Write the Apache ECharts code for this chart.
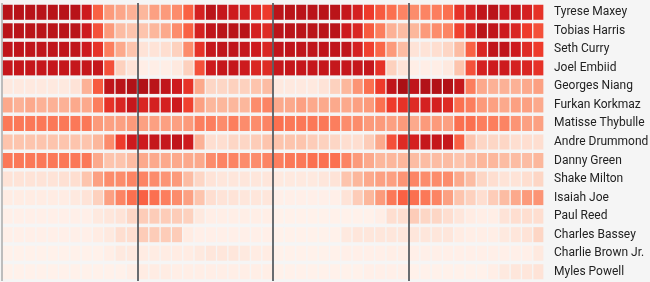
<!DOCTYPE html>
<html><head><meta charset="utf-8">
<script src="https://cdn.jsdelivr.net/npm/echarts@6/dist/echarts.min.js"></script>
<style>html,body{margin:0;padding:0;background:#f5f5f5}#c{width:650px;height:282px}</style>
</head><body><div id="c"></div>
<script>
const minutes = Array.from({length:48}, (_, i) => String(i + 1));
const players = ["Tyrese Maxey","Tobias Harris","Seth Curry","Joel Embiid","Georges Niang","Furkan Korkmaz","Matisse Thybulle","Andre Drummond","Danny Green","Shake Milton","Isaiah Joe","Paul Reed","Charles Bassey","Charlie Brown Jr.","Myles Powell"];
const tyreseMaxey   = [93,93,93,93,93,93,93,85,60,40,36,32, 30,38,40,45,60,82,92,88,85,82,78,72, 92,92,92,92,92,92,88,82,72,62,55,48, 45,48,50,55,75,82,90,92,85,88,82,75];
const tobiasHarris  = [92,92,92,92,92,92,92,85,65,40,28,25, 25,30,35,45,60,82,90,92,92,92,82,78, 92,92,92,92,92,92,85,80,62,50,32,28, 30,40,45,48,70,80,92,90,85,80,72,65];
const sethCurry     = [90,90,90,90,90,90,90,85,75,50,35,25, 12,12,15,20,45,75,88,90,90,88,85,80, 90,90,90,90,90,90,90,82,70,58,40,28, 12,12,15,18,28,60,80,90,90,85,78,72];
const joelEmbiid    = [88,88,88,88,88,88,88,88,88,65,20,12, 5,5,5,8,20,65,85,88,88,85,80,78, 88,88,88,88,88,88,88,88,88,75,20,12, 5,5,5,8,25,65,82,85,85,82,80,75];
const georgesNiang  = [8,8,8,8,8,8,12,32,62,90,92,96, 95,92,90,85,75,35,18,18,20,20,25,28, 8,8,8,8,12,20,30,42,55,72,90,98, 90,95,95,95,88,50,35,32,32,32,35,38];
const furkanKorkmaz = [35,32,35,32,32,32,35,35,50,75,80,88, 80,82,82,85,70,38,30,30,30,30,45,48, 35,35,38,35,35,35,35,38,40,55,72,75, 78,82,82,78,55,50,40,38,35,38,38,35];
const matisseThybulle = [52,52,52,52,52,52,52,52,40,38,38,40, 38,38,38,38,40,50,50,45,50,45,45,48, 55,52,52,52,52,50,45,45,40,40,38,40, 35,40,40,38,55,55,50,50,48,42,38,38];
const andreDrummond = [25,25,25,25,25,25,25,25,30,45,72,85, 85,88,88,90,85,32,15,15,18,18,22,25, 25,25,25,22,20,18,15,15,22,35,65,78, 82,88,88,88,60,25,18,18,18,15,15,15];
const dannyGreen    = [52,52,52,52,52,52,52,52,35,25,25,28, 35,35,35,35,35,35,45,48,48,45,45,48, 50,52,52,55,55,55,48,40,35,30,30,30, 28,28,28,28,25,28,30,30,28,28,28,30];
const shakeMilton   = [12,12,12,12,12,14,15,25,38,45,45,48, 48,45,42,40,28,18,12,10,10,10,10,10, 8,8,8,8,10,12,25,30,35,38,38,42, 48,45,45,45,35,28,18,15,12,12,15,18];
const isaiahJoe     = [6,6,6,6,6,6,8,12,20,38,48,55, 60,55,50,45,38,25,15,12,12,10,10,10, 4,4,4,4,4,4,12,22,30,40,52,60, 55,52,48,38,25,20,15,22,28,35,40,42];
const paulReed      = [4,4,4,4,4,4,4,4,8,10,12,18, 22,22,22,22,20,8,5,5,5,5,5,5, 3,3,3,3,3,3,3,3,3,5,15,15, 22,18,18,15,10,6,5,5,12,15,15,15];
const charlesBassey = [4,4,4,4,4,4,4,4,6,8,15,15, 22,22,22,22,6,4,4,4,4,4,4,4, 3,3,3,3,3,3,8,10,10,10,10,10, 10,10,10,10,6,5,5,5,8,10,12,18];
const charlieBrown  = [3,3,3,3,3,3,3,3,3,5,8,8, 6,6,6,6,6,8,10,10,10,8,6,6, 3,3,3,3,3,3,4,4,4,4,5,5, 4,4,4,4,4,4,4,4,4,4,4,8];
const mylesPowell   = [3,3,3,3,3,3,3,3,3,3,3,5, 6,6,6,5,5,5,5,5,5,5,5,5, 3,3,3,3,3,3,3,3,4,4,4,4, 3,3,3,3,3,3,3,5,8,10,10,12];
const rows = [tyreseMaxey,tobiasHarris,sethCurry,joelEmbiid,georgesNiang,furkanKorkmaz,matisseThybulle,andreDrummond,dannyGreen,shakeMilton,isaiahJoe,paulReed,charlesBassey,charlieBrown,mylesPowell];

const data = [];
rows.forEach((r, y) => r.forEach((v, x) => data.push([x, y, v])));

const chart = echarts.init(document.getElementById('c'));
chart.setOption({
  backgroundColor: '#f5f5f5',
  animation: false,
  grid: {left: 2, right: 106, top: 3, bottom: 1, containLabel: false, outerBoundsMode: 'none'},
  xAxis: [
    {type: 'category', data: minutes, show: false},
    {type: 'value', min: 0, max: 48, interval: 12, position: 'bottom', z: 10,
     axisLine: {show: false}, axisTick: {show: false}, axisLabel: {show: false},
     splitLine: {show: true, showMaxLine: false, lineStyle: {color: ['#aaaaaa', '#3a3f44', '#3a3f44', '#3a3f44'], width: 1.5}}}
  ],
  yAxis: {type: 'category', data: players, inverse: true, position: 'right',
    axisLine: {show: false}, axisTick: {show: false}, splitLine: {show: false},
    axisLabel: {margin: 10, color: '#222', fontFamily: 'Roboto', fontSize: 12}},
  visualMap: {show: false, min: 0, max: 100, dimension: 2, seriesIndex: 0,
    inRange: {color: ['#fff5f0','#fee0d2','#fcbba1','#fc9272','#fb6a4a','#ef3b2c','#cb181d','#a50f15']}},
  series: [{
    type: 'custom', xAxisIndex: 0, yAxisIndex: 0, data: data,
    encode: {x: 0, y: 1},
    renderItem: function (params, api) {
      const c = api.coord([api.value(0), api.value(1)]);
      const s = api.size([1, 1]);
      const w = s[0] - 1.3, h = s[1] - 3.5;
      return {type: 'rect', shape: {x: c[0] - w / 2, y: c[1] - h / 2, width: w, height: h},
        style: {fill: api.visual('color')}};
    }
  }]
});
</script></body></html>
